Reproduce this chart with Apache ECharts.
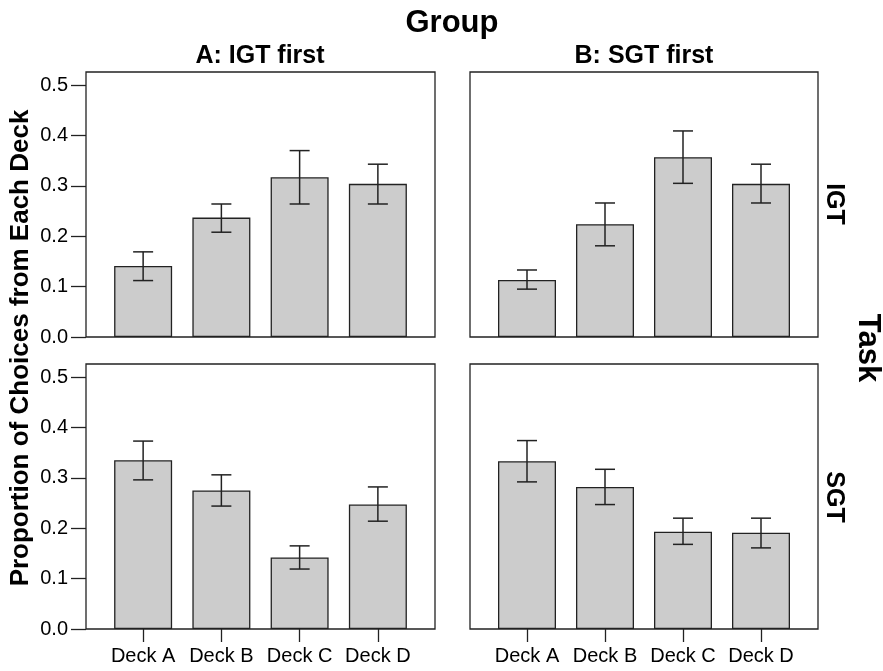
<!DOCTYPE html>
<html>
<head>
<meta charset="utf-8">
<script src="https://cdn.jsdelivr.net/npm/echarts@6/dist/echarts.min.js"></script>
<style>
  html, body { margin: 0; padding: 0; background: #fff; }
  #chart { width: 883px; height: 671px; }
</style>
</head>
<body>
<div id="chart"></div>
<script>
  // categories and tick labels
  const decks = ['Deck A', 'Deck B', 'Deck C', 'Deck D']
  const yTicks = [0, 0.1, 0.2, 0.3, 0.4, 0.5]
  const yMax = 0.526

  // group A (IGT first), task IGT
  const aIgtMean = [0.141, 0.237, 0.317, 0.304]
  const aIgtLow = [0.112, 0.208, 0.264, 0.264]
  const aIgtHigh = [0.169, 0.264, 0.370, 0.343]
  // group B (SGT first), task IGT
  const bIgtMean = [0.113, 0.224, 0.357, 0.304]
  const bIgtLow = [0.095, 0.181, 0.305, 0.266]
  const bIgtHigh = [0.133, 0.266, 0.409, 0.343]
  // group A (IGT first), task SGT
  const aSgtMean = [0.335, 0.275, 0.142, 0.247]
  const aSgtLow = [0.296, 0.244, 0.119, 0.214]
  const aSgtHigh = [0.373, 0.306, 0.165, 0.282]
  // group B (SGT first), task SGT
  const bSgtMean = [0.333, 0.282, 0.193, 0.191]
  const bSgtLow = [0.292, 0.247, 0.168, 0.161]
  const bSgtHigh = [0.374, 0.317, 0.220, 0.220]

  const font = 'Liberation Sans, Arial, Helvetica, sans-serif'
  const ink = '#222'

  // panel frames (pixel layout)
  const panels = [
    { x: 86, y: 72, w: 349, h: 265 },
    { x: 470, y: 72, w: 348, h: 265 },
    { x: 86, y: 364, w: 349, h: 265 },
    { x: 470, y: 364, w: 348, h: 265 }
  ]
  const inset = 18 // space between frame edge and first category band
  const panelData = [
    [aIgtMean, aIgtLow, aIgtHigh],
    [bIgtMean, bIgtLow, bIgtHigh],
    [aSgtMean, aSgtLow, aSgtHigh],
    [bSgtMean, bSgtLow, bSgtHigh]
  ]

  function renderError(params, api) {
    const x = api.value(0)
    const lo = api.coord([x, api.value(1)])
    const hi = api.coord([x, api.value(2)])
    const w = 10
    const style = { stroke: ink, lineWidth: 1.5 }
    return {
      type: 'group',
      children: [
        { type: 'line', shape: { x1: lo[0], y1: lo[1], x2: hi[0], y2: hi[1] }, style: style },
        { type: 'line', shape: { x1: lo[0] - w, y1: lo[1], x2: lo[0] + w, y2: lo[1] }, style: style },
        { type: 'line', shape: { x1: hi[0] - w, y1: hi[1], x2: hi[0] + w, y2: hi[1] }, style: style }
      ]
    }
  }

  const grids = []
  const xAxes = []
  const yAxes = []
  const series = []
  panels.forEach((p, i) => {
    const isLeft = i % 2 === 0
    const isBottom = i >= 2
    grids.push({ left: p.x + inset, top: p.y, width: p.w - 2 * inset, height: p.h })
    xAxes.push({
      type: 'category',
      gridIndex: i,
      data: decks,
      axisLine: { show: false },
      axisTick: { show: isBottom, alignWithLabel: true, interval: 0, length: 13, lineStyle: { color: ink, width: 1.3 } },
      axisLabel: { show: isBottom, interval: 0, fontSize: 20, color: '#000', fontFamily: font, margin: 17 }
    })
    yAxes.push({
      type: 'value',
      gridIndex: i,
      min: 0,
      max: yMax,
      show: isLeft,
      offset: inset,
      splitLine: { show: false },
      axisLine: { show: false },
      axisTick: { show: true, length: 15, customValues: yTicks, lineStyle: { color: ink, width: 1.3 } },
      axisLabel: {
        fontSize: 20, color: '#000', fontFamily: font, margin: 18,
        customValues: yTicks,
        formatter: v => v.toFixed(1)
      }
    })
    const [mean, low, high] = panelData[i]
    series.push({
      type: 'bar',
      xAxisIndex: i,
      yAxisIndex: i,
      data: mean,
      barWidth: 58,
      itemStyle: { color: '#cccccc', borderColor: ink, borderWidth: 1.3 },
      silent: true
    })
    series.push({
      type: 'custom',
      xAxisIndex: i,
      yAxisIndex: i,
      data: decks.map((d, k) => [k, low[k], high[k]]),
      renderItem: renderError,
      z: 5,
      silent: true
    })
  })

  const graphics = panels.map(p => ({
    type: 'rect',
    shape: { x: p.x, y: p.y, width: p.w, height: p.h },
    style: { fill: 'none', stroke: ink, lineWidth: 1.3 },
    z: 10,
    silent: true
  }))

  function label(text, x, y, size, rotation) {
    return {
      type: 'text',
      x: x,
      y: y,
      rotation: rotation || 0,
      style: {
        text: text,
        fontSize: size,
        fontWeight: 'bold',
        fontFamily: font,
        fill: '#000',
        align: 'center',
        verticalAlign: 'middle'
      },
      z: 10,
      silent: true
    }
  }

  graphics.push(label('Group', 452, 23, 31))
  graphics.push(label('A: IGT first', 260, 56, 25))
  graphics.push(label('B: SGT first', 644, 56, 25))
  graphics.push(label('IGT', 834, 204, 25, -Math.PI / 2))
  graphics.push(label('SGT', 834, 497, 25, -Math.PI / 2))
  graphics.push(label('Task', 868, 348, 31, -Math.PI / 2))
  graphics.push(label('Proportion of Choices from Each Deck', 21, 348, 26, Math.PI / 2))

  const chart = echarts.init(document.getElementById('chart'))
  chart.setOption({
    animation: false,
    backgroundColor: '#fff',
    grid: grids,
    xAxis: xAxes,
    yAxis: yAxes,
    series: series,
    graphic: graphics
  })
</script>
</body>
</html>
